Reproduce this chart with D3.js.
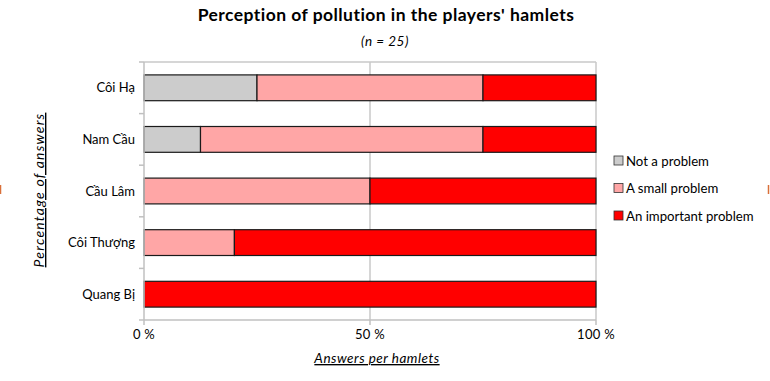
<!DOCTYPE html>
<html><head><meta charset="utf-8">
<script src="https://cdn.jsdelivr.net/npm/d3@7"></script>
<style>body{margin:0;background:#fff}svg{display:block;font-family:Lato,"Open Sans",sans-serif}</style>
</head><body><svg id="c" width="770" height="381"></svg>
<script>
const categories = ["Côi Hạ","Nam Cầu","Cầu Lâm","Côi Thượng","Quang Bị"];
const seriesNames = ["Not a problem","A small problem","An important problem"];
const notAProblem = [25, 12.5, 0, 0, 0];
const smallProblem = [50, 62.5, 50, 20, 0];
const importantProblem = [25, 25, 50, 80, 100];
const colors = ["#cccccc","#ffa6a6","#ff0000"];
const xTicks = [0, 50, 100];

const svg = d3.select("#c");
const m = {l:144, r:596, t:62, b:320};
const x = d3.scaleLinear().domain([0,100]).range([m.l, m.r]);
const y = d3.scaleBand().domain(categories).range([m.t, m.b]).paddingInner(0.5).paddingOuter(0.25);
const yEdge = d3.scaleLinear().domain([0, categories.length]).range([m.t, m.b]);

// gridlines
svg.append("g").selectAll("line").data(xTicks.slice(1)).join("line")
  .attr("x1", d=>x(d)).attr("x2", d=>x(d)).attr("y1", m.t).attr("y2", m.b)
  .attr("stroke","#c8c8c8").attr("stroke-width",1.5);
svg.append("line").attr("x1",m.l).attr("x2",m.r).attr("y1",m.t).attr("y2",m.t).attr("stroke","#c8c8c8").attr("stroke-width",1.5);

// bars
const rows = categories.map((c,i)=>({c, v:[notAProblem[i], smallProblem[i], importantProblem[i]]}));
const stackData = rows.map(r=>{ let acc=0; return r.v.map((v,k)=>{const s={c:r.c,k,x0:acc,x1:acc+v}; acc+=v; return s;}).filter(s=>s.x1>s.x0);}).flat();
svg.append("g").selectAll("rect").data(stackData).join("rect")
  .attr("x", d=>x(d.x0)).attr("width", d=>x(d.x1)-x(d.x0))
  .attr("y", d=>y(d.c)).attr("height", y.bandwidth())
  .attr("fill", d=>colors[d.k]).attr("stroke","#1a1a1a").attr("stroke-width",1.2);

// y axis
const ya = svg.append("g");
ya.append("line").attr("x1",m.l).attr("x2",m.l).attr("y1",m.t).attr("y2",m.b).attr("stroke","#c0c0c0").attr("stroke-width",1.5);
ya.selectAll("line.t").data(d3.range(categories.length+1)).join("line").attr("class","t")
  .attr("x1",m.l-5).attr("x2",m.l).attr("y1",d=>yEdge(d)).attr("y2",d=>yEdge(d)).attr("stroke","#c0c0c0").attr("stroke-width",1.5);
ya.selectAll("text").data(categories).join("text")
  .attr("x",m.l-9).attr("y",d=>y(d)+y.bandwidth()/2+4.5).attr("text-anchor","end")
  .attr("font-size",13).attr("fill","#000").text(d=>d);

// x axis
const xa = svg.append("g");
xa.append("line").attr("x1",m.l).attr("x2",m.r).attr("y1",m.b).attr("y2",m.b).attr("stroke","#c0c0c0").attr("stroke-width",1.5);
xa.selectAll("line.t").data(xTicks).join("line").attr("class","t")
  .attr("x1",d=>x(d)).attr("x2",d=>x(d)).attr("y1",m.b).attr("y2",m.b+5).attr("stroke","#c0c0c0").attr("stroke-width",1.5);
xa.selectAll("text").data(xTicks).join("text")
  .attr("x",d=>x(d)).attr("y",m.b+19).attr("text-anchor","middle").attr("font-size",13).attr("letter-spacing",0.3).text(d=>d+" %");

// titles
svg.append("text").attr("x",386).attr("y",21).attr("text-anchor","middle").attr("font-size",17.5).attr("font-weight","bold").attr("letter-spacing",0.45).text("Perception of pollution in the players' hamlets");
svg.append("text").attr("x",385).attr("y",46).attr("text-anchor","middle").attr("font-size",13.5).attr("font-style","italic").attr("letter-spacing",0.5).text("(n = 25)");
svg.append("text").attr("x",377).attr("y",363).attr("text-anchor","middle").attr("font-size",13.5).attr("font-style","italic").attr("text-decoration","underline").attr("letter-spacing",0.5).text("Answers per hamlets");
svg.append("text").attr("transform","translate(44,190) rotate(-90)").attr("text-anchor","middle").attr("font-size",14).attr("font-style","italic").attr("text-decoration","underline").attr("letter-spacing",1.2).text("Percentage of answers");

// legend
const lg = svg.append("g");
seriesNames.forEach((n,i)=>{
  const yy = 161 + i*27.5;
  lg.append("rect").attr("x",614).attr("y",yy-5).attr("width",9).attr("height",9).attr("fill",colors[i]).attr("stroke","#333").attr("stroke-width",0.8);
  lg.append("text").attr("x",626).attr("y",yy+4.5).attr("font-size",13.2).text(n);
});

// edge marks
svg.append("line").attr("x1",0.5).attr("x2",0.5).attr("y1",185).attr("y2",194).attr("stroke","#d9703a").attr("stroke-width",1.5);
svg.append("line").attr("x1",768.5).attr("x2",768.5).attr("y1",185).attr("y2",194).attr("stroke","#d9703a").attr("stroke-width",1.5);
</script></body></html>
